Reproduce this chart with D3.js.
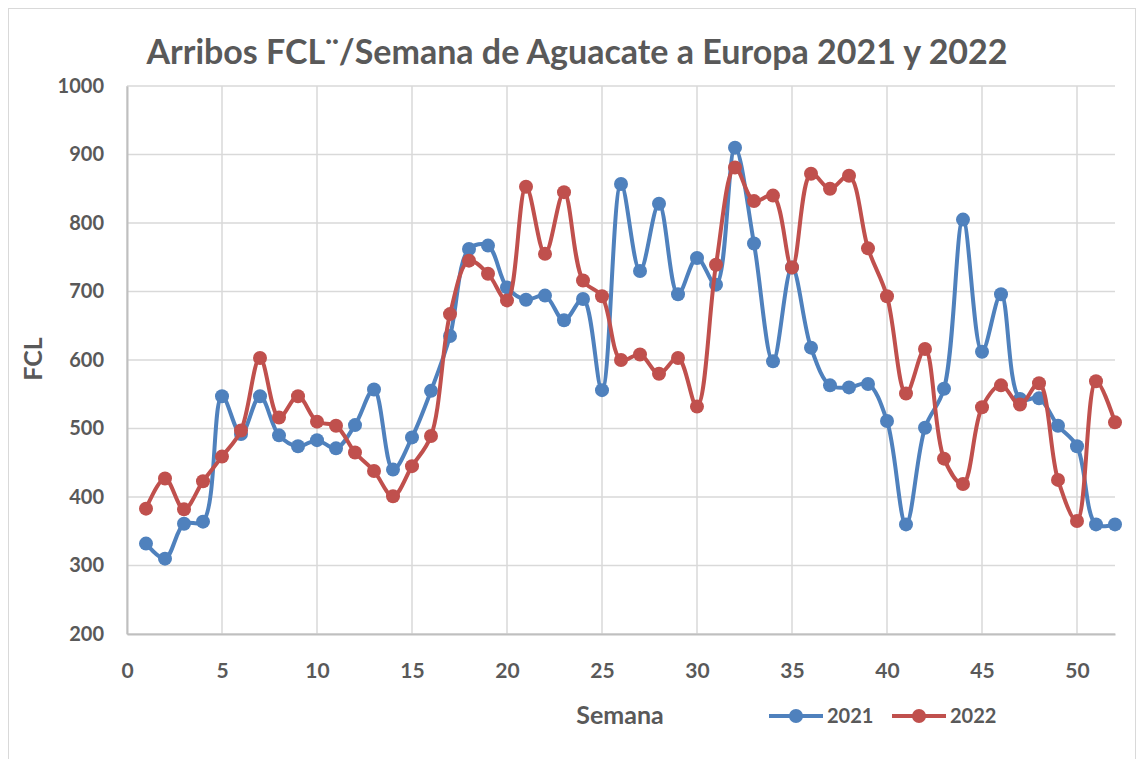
<!DOCTYPE html>
<html>
<head>
<meta charset="utf-8">
<script src="https://cdn.jsdelivr.net/npm/d3@7"></script>
<style>
  body { margin: 0; background: #fff; }
  text { font-family: Lato, "Open Sans", sans-serif; font-weight: bold; fill: #595959; }
</style>
</head>
<body>
<script>
// Data
var weeks = d3.range(1, 53);
var fcl2021 = [332,310,361,364,547,492,547,490,474,483,471,505,557,440,487,555,635,762,767,706,
  688,694,658,689,556,857,730,828,696,749,710,910,770,598,735,618,563,560,565,511,
  360,501,558,805,612,696,543,544,504,474,360,360];
var fcl2022 = [383,427,382,423,459,497,603,516,547,510,504,465,438,401,445,489,667,745,726,687,
  853,755,845,716,693,600,608,580,603,532,739,881,832,840,735,872,850,869,763,693,
  551,616,456,419,531,563,535,566,425,365,569,509];
var seriesNames = ["2021", "2022"];
var colors = ["#4f81bd", "#c0504d"];
var xTicks = d3.range(0, 51, 5);
var yTicks = d3.range(200, 1001, 100);

var W = 1144, H = 759;
var margin = {top: 86, right: 29, bottom: 125, left: 127};

var svg = d3.select("body").append("svg")
  .attr("width", W).attr("height", H);

// chart border
svg.append("rect")
  .attr("x", 8.5).attr("y", 8.5)
  .attr("width", W - 17).attr("height", H + 20)
  .attr("fill", "none").attr("stroke", "#d9d9d9");

var xScale = d3.scaleLinear().domain([0, 52]).range([margin.left, W - margin.right]);
var yScale = d3.scaleLinear().domain([200, 1000]).range([H - margin.bottom, margin.top]);

// gridlines
svg.append("g").selectAll("line.h").data(yTicks).enter().append("line")
  .attr("x1", xScale(0)).attr("x2", xScale(52))
  .attr("y1", function(d){ return yScale(d); }).attr("y2", function(d){ return yScale(d); })
  .attr("stroke", "#d9d9d9").attr("stroke-width", 1.5);
svg.append("g").selectAll("line.v").data(xTicks).enter().append("line")
  .attr("x1", function(d){ return xScale(d); }).attr("x2", function(d){ return xScale(d); })
  .attr("y1", yScale(200)).attr("y2", yScale(1000))
  .attr("stroke", "#d9d9d9").attr("stroke-width", 1.5);

// axes
var yAxis = svg.append("g")
  .attr("transform", "translate(" + margin.left + ",0)")
  .call(d3.axisLeft(yScale).tickValues(yTicks).tickFormat(d3.format("d")).tickSize(0).tickPadding(23));
var xAxis = svg.append("g")
  .attr("transform", "translate(0," + yScale(200) + ")")
  .call(d3.axisBottom(xScale).tickValues(xTicks).tickSize(0).tickPadding(29));
[xAxis, yAxis].forEach(function(a){
  a.select(".domain").attr("stroke", "#bfbfbf").attr("stroke-width", 2);
  a.selectAll("text").style("font-size", "20px").attr("fill", "#595959");
});
xAxis.selectAll("text").style("font-size", "21px");

// lines
var line = d3.line()
  .x(function(d, i){ return xScale(weeks[i]); })
  .y(function(d){ return yScale(d); })
  .curve(d3.curveCatmullRom);

[fcl2021, fcl2022].forEach(function(vals, k){
  var g = svg.append("g");
  g.append("path").datum(vals)
    .attr("d", line)
    .attr("fill", "none")
    .attr("stroke", colors[k])
    .attr("stroke-width", 4);
  g.selectAll("circle").data(vals).enter().append("circle")
    .attr("cx", function(d, i){ return xScale(weeks[i]); })
    .attr("cy", function(d){ return yScale(d); })
    .attr("r", 7)
    .attr("fill", colors[k]);
});

// title and axis titles
svg.append("text")
  .attr("x", 577).attr("y", 64)
  .attr("text-anchor", "middle")
  .style("font-size", "34px")
  .text("Arribos FCL¨/Semana de Aguacate a Europa 2021 y 2022");

svg.append("text")
  .attr("transform", "translate(42,359) rotate(-90)")
  .attr("text-anchor", "middle")
  .style("font-size", "25px")
  .text("FCL");

svg.append("text")
  .attr("x", 620).attr("y", 724)
  .attr("text-anchor", "middle")
  .style("font-size", "25px")
  .text("Semana");

// legend
var legend = svg.append("g").attr("transform", "translate(769,716)");
seriesNames.forEach(function(name, k){
  var lg = legend.append("g").attr("transform", "translate(" + (k * 123) + ",0)");
  lg.append("line").attr("x1", 0).attr("x2", 54).attr("y1", 0).attr("y2", 0)
    .attr("stroke", colors[k]).attr("stroke-width", 4);
  lg.append("circle").attr("cx", 27).attr("cy", 0).attr("r", 7).attr("fill", colors[k]);
  lg.append("text").attr("x", 58).attr("y", 7)
    .style("font-size", "20px").text(name);
});
</script>
</body>
</html>
